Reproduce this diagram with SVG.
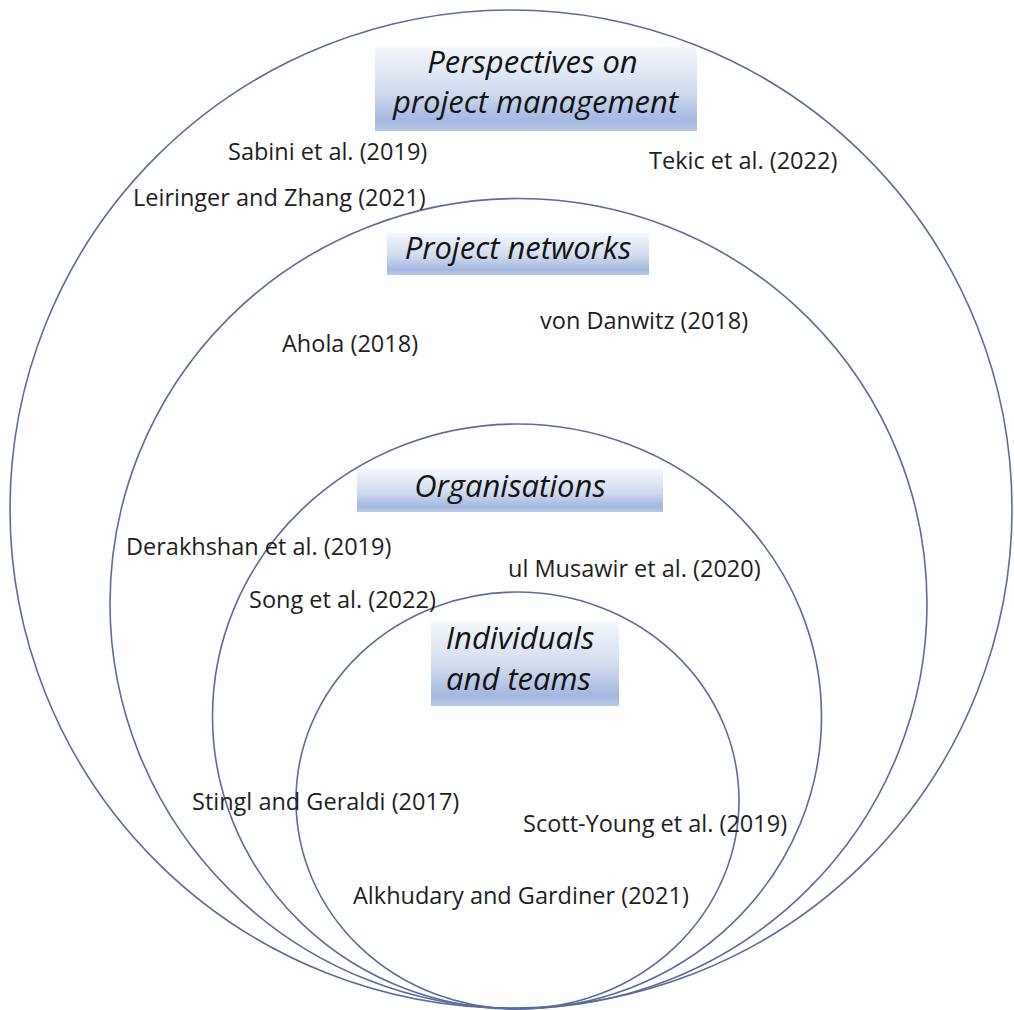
<svg xmlns="http://www.w3.org/2000/svg" width="1014" height="1010" viewBox="0 0 1014 1010">
  <defs>
    <linearGradient id="boxGrad" x1="0" y1="0" x2="0" y2="1">
      <stop offset="0" stop-color="#f5f8fd"/>
      <stop offset="0.55" stop-color="#cfdaef"/>
      <stop offset="0.88" stop-color="#a2b7df"/>
      <stop offset="1" stop-color="#b9c8e6"/>
    </linearGradient>
    <style>
      .ring { fill: none; stroke: #5a6d99; stroke-width: 1.6; }
      .box { fill: url(#boxGrad); }
      .title { font-family: "Open Sans", "Noto Sans", sans-serif; font-style: italic; font-size: 31px; fill: #141414; text-anchor: middle; }
      .ref { font-family: "Open Sans", "Noto Sans", sans-serif; font-size: 23.5px; fill: #1e1e1e; }
    </style>
  </defs>
  <rect width="1014" height="1010" fill="#ffffff"/>

  <g id="ring-perspectives">
    <ellipse class="ring" cx="511" cy="509" rx="501" ry="499"/>
  </g>
  <g id="ring-networks">
    <ellipse class="ring" cx="518.5" cy="603.5" rx="408.5" ry="405"/>
  </g>
  <g id="ring-organisations">
    <ellipse class="ring" cx="517" cy="716.5" rx="304.5" ry="292.5"/>
  </g>
  <g id="ring-individuals">
    <ellipse class="ring" cx="517.5" cy="800.5" rx="221.5" ry="208.5"/>
  </g>

  <g id="label-perspectives">
    <rect class="box" x="375" y="47" width="322" height="84"/>
    <text class="title" x="532.5" y="73">Perspectives on</text>
    <text class="title" x="535.5" y="113">project management</text>
  </g>
  <g id="label-networks">
    <rect class="box" x="387" y="233" width="262" height="42"/>
    <text class="title" x="518" y="259">Project networks</text>
  </g>
  <g id="label-organisations">
    <rect class="box" x="357" y="469" width="306" height="43"/>
    <text class="title" x="510" y="497">Organisations</text>
  </g>
  <g id="label-individuals">
    <rect class="box" x="431" y="621" width="188" height="85"/>
    <text class="title" x="520" y="649">Individuals</text>
    <text class="title" x="518.5" y="690">and teams</text>
  </g>

  <g id="references">
    <text class="ref" x="228" y="160">Sabini et al. (2019)</text>
    <text class="ref" x="649" y="169">Tekic et al. (2022)</text>
    <text class="ref" x="133" y="206">Leiringer and Zhang (2021)</text>
    <text class="ref" x="540" y="329">von Danwitz (2018)</text>
    <text class="ref" x="282" y="352">Ahola (2018)</text>
    <text class="ref" x="126" y="555">Derakhshan et al. (2019)</text>
    <text class="ref" x="508" y="577">ul Musawir et al. (2020)</text>
    <text class="ref" x="249" y="608">Song et al. (2022)</text>
    <text class="ref" x="192" y="810">Stingl and Geraldi (2017)</text>
    <text class="ref" x="523" y="832">Scott-Young et al. (2019)</text>
    <text class="ref" x="353" y="904">Alkhudary and Gardiner (2021)</text>
  </g>
</svg>
